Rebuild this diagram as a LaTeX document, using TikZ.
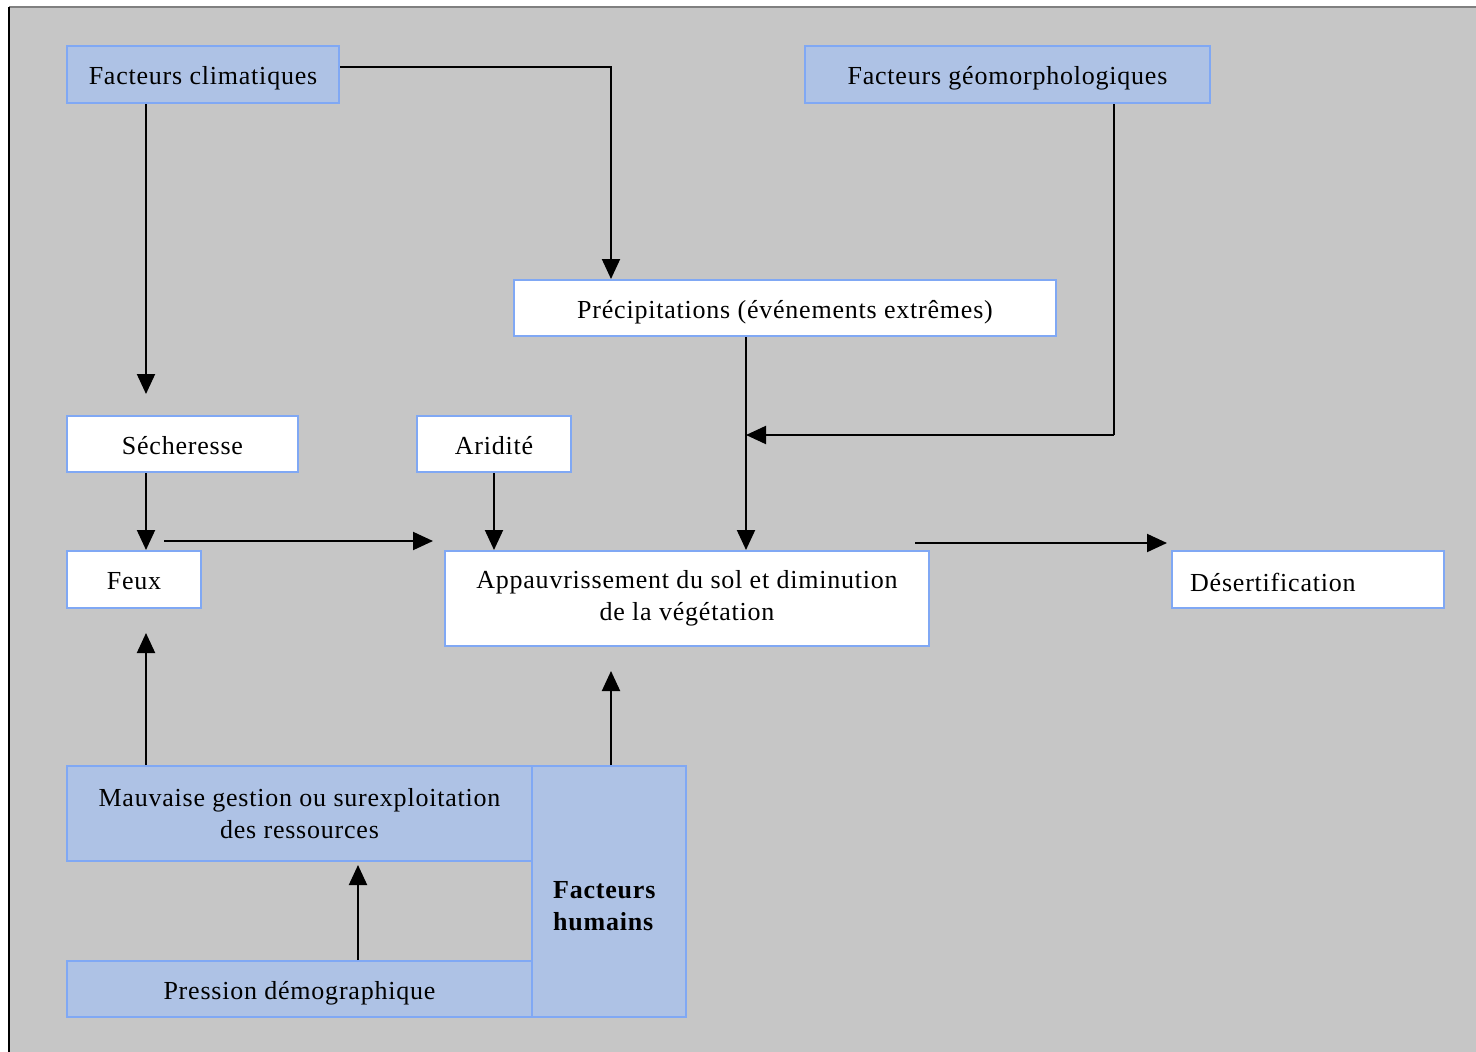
\documentclass[tikz,border=0pt]{standalone}
\usepackage{fontspec}
\setmainfont{Liberation Serif}[LetterSpace=3]
\usetikzlibrary{arrows.meta}
\definecolor{bggray}{HTML}{C6C6C6}
\definecolor{boxblue}{HTML}{AEC2E5}
\definecolor{edgeblue}{HTML}{80A8F4}
\tikzset{
  txt/.style={font=\fontsize{26}{32}\selectfont},
  bluebox/.style={draw=edgeblue, line width=2pt, fill=boxblue, inner sep=0pt, align=center, txt},
  whitebox/.style={draw=edgeblue, line width=2pt, fill=white, inner sep=0pt, align=center, txt},
  oneline/.style={text height=26pt, text depth=6pt},
  arr/.style={line width=2pt, -{Triangle[length=20pt,width=18pt]}},
  plain/.style={line width=2pt},
}
\begin{document}
\begin{tikzpicture}[x=1pt,y=-1pt]
\useasboundingbox (0,0) rectangle (1476,1052);
\fill[white] (0,0) rectangle (1476,1052);
\fill[bggray] (9,7) rectangle (1476,1052);
\draw[gray, line width=1.5pt] (9,7) -- (1476,7);
\draw[black, line width=2pt] (9,7) -- (9,1052);
% boxes
\node[bluebox, oneline, minimum width=272, minimum height=57] (fc) at (203,74.5) {Facteurs climatiques};
\node[bluebox, oneline, minimum width=405, minimum height=57] (fg) at (1007.5,74.5) {Facteurs géomorphologiques};
\node[whitebox, oneline, minimum width=542, minimum height=56] (prec) at (785,308) {Précipitations (événements extrêmes)};
\node[whitebox, oneline, minimum width=231, minimum height=56] (sech) at (182.5,444) {Sécheresse};
\node[whitebox, oneline, minimum width=154, minimum height=56] (arid) at (494,444) {Aridité};
\node[whitebox, oneline, minimum width=134, minimum height=57] (feux) at (134,579.5) {Feux};
\node[whitebox, minimum width=484, minimum height=95] (app) at (687,598.5) {Appauvrissement du sol et diminution\\de la végétation};
\node[whitebox, minimum width=272, minimum height=57] (des) at (1308,579.5) {};
\node[anchor=west, inner sep=0pt, txt] (destext) at (1190,582) {Désertification};
\node[bluebox, minimum width=154, minimum height=251] (hum) at (609,891.5) {};
\node[anchor=west, inner sep=0pt, align=left, font=\bfseries\fontsize{26}{32}\selectfont] (humtext) at (553,906) {Facteurs\\humains};
\node[bluebox, minimum width=465, minimum height=95] (mauv) at (299.5,813.5) {Mauvaise gestion ou surexploitation\\des ressources};
\node[bluebox, oneline, minimum width=465, minimum height=56] (pres) at (299.5,989) {Pression démographique};
% coordinates
\coordinate (feuxout) at (164,541);
\coordinate (appout) at (915,543);
% connectors
\draw[arr] (fc.east |- 0,67) -| (prec.north -| 611,0);
\draw[arr, shorten >=21pt] (fc.south -| 146,0) -- (sech.north -| 146,0);
\draw[plain] (fg.south -| 1114,0) -- (1114,435) coordinate (fgcorner);
\draw[arr] (fgcorner) -- (fgcorner -| 746,0);
\draw[arr] (prec.south -| 746,0) -- (app.north -| 746,0);
\draw[arr] (sech.south -| 146,0) -- (feux.north -| 146,0);
\draw[arr] (arid.south) -- (app.north -| arid.south);
\draw[arr, shorten >=11pt] (feuxout) -- (app.west |- feuxout);
\draw[arr, shorten >=4pt] (appout) -- (des.west |- appout);
\draw[arr, shorten >=24pt] (mauv.north -| 146,0) -- (feux.south -| 146,0);
\draw[arr, shorten >=24pt] (hum.north -| 611,0) -- (app.south -| 611,0);
\draw[arr, shorten >=3pt] (pres.north -| 358,0) -- (mauv.south -| 358,0);
\end{tikzpicture}
\end{document}
